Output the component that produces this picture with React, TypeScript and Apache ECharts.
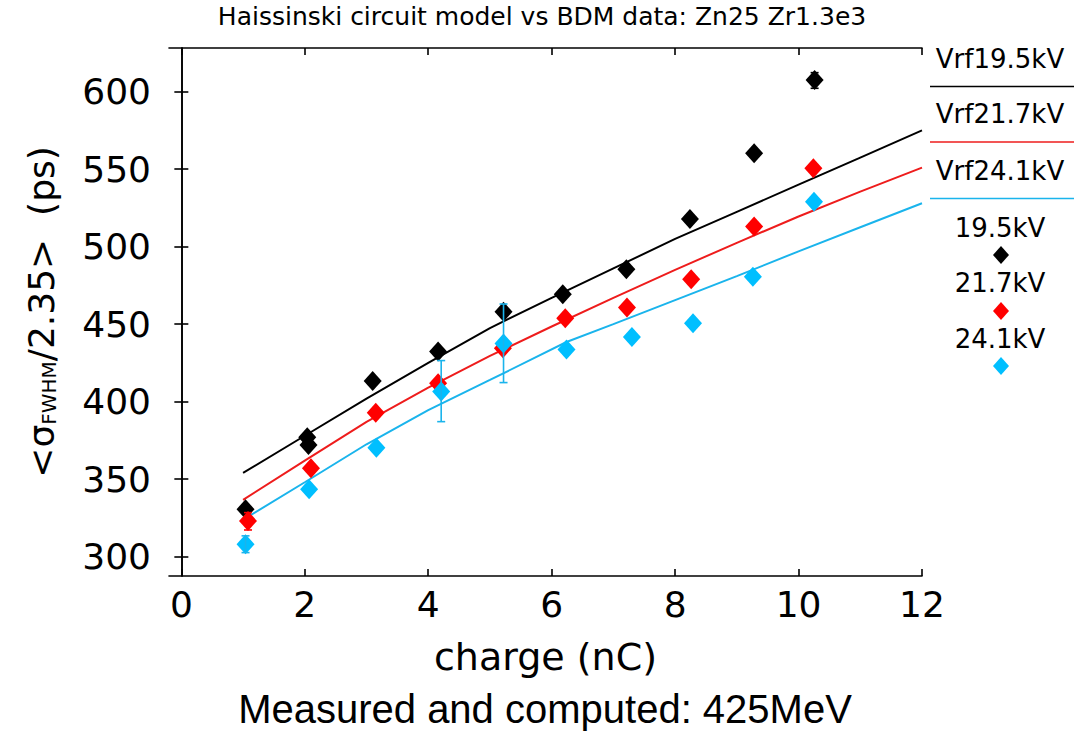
import React, { useEffect, useRef } from "react";
import * as echarts from "echarts";

// ---- data ----
const xTicks = [0, 2, 4, 6, 8, 10, 12];
const yTicks = [300, 350, 400, 450, 500, 550, 600];

// measured (BDM) data
const charge195 = [1.04, 2.04, 2.06, 3.1, 4.16, 5.22, 6.18, 7.21, 8.24, 9.28, 10.26];
const sigma195 = [330.6, 377, 372, 413.4, 432.3, 458, 469.3, 485.4, 517.8, 560.3, 607.5];
const charge217 = [1.08, 2.1, 3.15, 4.16, 5.21, 6.22, 7.22, 8.26, 9.28, 10.24];
const sigma217 = [323, 357, 392.9, 411.9, 434.5, 453.8, 460.8, 479, 513, 550.6];
const charge241 = [1.04, 2.07, 3.16, 4.21, 5.22, 6.24, 7.3, 8.29, 9.26, 10.25];
const sigma241 = [308, 343.5, 370.3, 406.5, 437.5, 433.6, 441.7, 450.6, 480.6, 529];

// error bars
const errCharge195 = [10.26];
const errLow195 = [602.2];
const errHigh195 = [612.3];
const errCharge217 = [1.08];
const errLow217 = [317.2];
const errHigh217 = [328.4];
const errCharge241 = [1.04, 4.21, 5.22];
const errLow241 = [302.6, 387.1, 412.3];
const errHigh241 = [313.4, 426.5, 463];

// Haissinski circuit model
const modelCharge195 = [1, 2, 3, 4, 5, 6, 7, 8, 9, 10, 11, 12];
const model195 = [354, 378, 402, 425, 447.5, 467, 486, 505, 522.5, 540, 557.5, 575];
const modelCharge217 = [1, 2, 3, 4, 5, 6, 7, 8, 9, 10, 11, 12];
const model217 = [336.6, 362, 387, 409, 429.5, 448.5, 467, 485, 502.5, 519.5, 535.5, 551];
const modelCharge241 = [1.05, 2, 3, 4, 5, 6.24, 7, 8, 9, 10, 11, 12];
const model241 = [325, 348, 372.5, 394.5, 414, 438.5, 450, 465.5, 481, 497, 512.5, 528];

const BLACK = "#000000";
const RED = "#ff0000";
const RED_LINE = "#ee1c1c";
const BLUE = "#00bfff";
const BLUE_LINE = "#1ab4ec";
const FONT = "DejaVu Sans";

const zip = (a: number[], b: number[]) => a.map((v, i) => [v, b[i]]);
const zip3 = (a: number[], b: number[], c: number[]) => a.map((v, i) => [v, b[i], c[i]]);

function errSeries(data: number[][], color: string, z: number) {
  return {
    type: "custom",
    xAxisIndex: 0,
    yAxisIndex: 0,
    data,
    encode: { x: 0, y: [1, 2] },
    z,
    renderItem: (params: any, api: any) => {
      const x = api.value(0);
      const p1 = api.coord([x, api.value(1)]);
      const p2 = api.coord([x, api.value(2)]);
      const w = 4;
      const style = { stroke: color, lineWidth: 1.6 };
      return {
        type: "group",
        children: [
          { type: "line", shape: { x1: p1[0], y1: p1[1], x2: p2[0], y2: p2[1] }, style },
          { type: "line", shape: { x1: p1[0] - w, y1: p1[1], x2: p1[0] + w, y2: p1[1] }, style },
          { type: "line", shape: { x1: p2[0] - w, y1: p2[1], x2: p2[0] + w, y2: p2[1] }, style },
        ],
      };
    },
  };
}

function lineSeries(data: number[][], color: string) {
  return {
    type: "line",
    xAxisIndex: 0,
    yAxisIndex: 0,
    data,
    showSymbol: false,
    symbol: "none",
    smooth: false,
    lineStyle: { color, width: 2 },
    z: 2,
  };
}

function scatterSeries(data: number[][], color: string, z: number) {
  return {
    type: "scatter",
    xAxisIndex: 0,
    yAxisIndex: 0,
    data,
    symbol: "diamond",
    symbolSize: [18, 20],
    itemStyle: { color, opacity: 1 },
    z,
  };
}

const diamond = (cx: number, cy: number, color: string) => ({
  type: "polygon",
  shape: { points: [[cx, cy - 9], [cx + 8, cy], [cx, cy + 9], [cx - 8, cy]] },
  style: { fill: color },
});

const legendText = (text: string, y: number) => ({
  type: "text",
  x: 1000,
  y,
  style: { text, fill: "#000", font: `26px "${FONT}"`, textAlign: "center", textVerticalAlign: "middle" },
});

const legendLine = (y: number, color: string) => ({
  type: "line",
  shape: { x1: 930, y1: y, x2: 1074, y2: y },
  style: { stroke: color, lineWidth: 1.6 },
});

export default function App() {
  const ref = useRef<HTMLDivElement>(null);
  useEffect(() => {
    if (!ref.current) return;
    const chart = echarts.init(ref.current, undefined, { renderer: "svg" });
    const axisLine = { show: true, lineStyle: { color: "#000", width: 1.6 } };
    const tickStyle = { color: "#000", width: 1.6 };
    chart.setOption({
      animation: false,
      backgroundColor: "#ffffff",
      grid: { left: 169, right: 152, top: 48, bottom: 156, containLabel: false },
      xAxis: [
        {
          type: "value",
          min: -0.2,
          max: 12,
          position: "bottom",
          axisLine,
          axisTick: { show: true, inside: true, length: 7, customValues: xTicks, lineStyle: tickStyle },
          axisLabel: {
            customValues: xTicks,
            fontSize: 36,
            fontFamily: FONT,
            color: "#000",
            margin: 10,
            showMaxLabel: true,
            showMinLabel: true,
          },
          splitLine: { show: false },
          name: "charge (nC)",
          nameLocation: "middle",
          nameGap: 62,
          nameTextStyle: { fontSize: 38, fontFamily: FONT, color: "#000" },
        },
        {
          type: "value",
          min: -0.2,
          max: 12,
          position: "top",
          axisLine,
          axisTick: { show: true, inside: true, length: 7, customValues: xTicks, lineStyle: tickStyle },
          axisLabel: { show: false },
          splitLine: { show: false },
        },
      ],
      yAxis: [
        {
          type: "value",
          min: 287.5,
          max: 628.2,
          position: "left",
          axisLine,
          axisTick: { show: true, inside: true, length: 7, customValues: yTicks, lineStyle: tickStyle },
          axisLabel: {
            customValues: yTicks,
            fontSize: 36,
            fontFamily: FONT,
            color: "#000",
            margin: 18,
            showMaxLabel: true,
            showMinLabel: true,
          },
          splitLine: { show: false },
          name: "{a|<σ}{b|FWHM}{a|/2.35>  (ps)}",
          nameLocation: "middle",
          nameRotate: 90,
          nameGap: 110,
          nameTextStyle: {
            color: "#000",
            fontFamily: FONT,
            rich: {
              a: { fontSize: 36, fontFamily: FONT, color: "#000" },
              b: { fontSize: 20, fontFamily: FONT, color: "#000", verticalAlign: "bottom", padding: [14, 0, 0, 0] },
            },
          },
        },
        {
          type: "value",
          min: 287.5,
          max: 628.2,
          position: "right",
          axisLine,
          axisTick: { show: true, inside: true, length: 7, customValues: yTicks, lineStyle: tickStyle },
          axisLabel: { show: false },
          splitLine: { show: false },
        },
      ],
      series: [
        lineSeries(zip(modelCharge195, model195), BLACK),
        lineSeries(zip(modelCharge217, model217), RED_LINE),
        lineSeries(zip(modelCharge241, model241), BLUE_LINE),
        scatterSeries(zip(charge195, sigma195), BLACK, 3),
        errSeries(zip3(errCharge195, errLow195, errHigh195), BLACK, 4),
        scatterSeries(zip(charge217, sigma217), RED, 6),
        errSeries(zip3(errCharge217, errLow217, errHigh217), RED, 7),
        scatterSeries(zip(charge241, sigma241), BLUE, 8),
        errSeries(zip3(errCharge241, errLow241, errHigh241), BLUE_LINE, 9),
      ],
      graphic: [
        {
          type: "text",
          x: 542,
          y: 16,
          style: {
            text: "Haissinski circuit model vs BDM data: Zn25 Zr1.3e3",
            fill: "#000",
            font: `25px "${FONT}"`,
            textAlign: "center",
            textVerticalAlign: "middle",
          },
        },
        {
          type: "text",
          x: 545,
          y: 709,
          style: {
            text: "Measured and computed: 425MeV",
            fill: "#000",
            font: `40px "Liberation Sans"`,
            textAlign: "center",
            textVerticalAlign: "middle",
          },
        },
        legendText("Vrf19.5kV", 59),
        legendLine(86.5, BLACK),
        legendText("Vrf21.7kV", 114),
        legendLine(142, RED_LINE),
        legendText("Vrf24.1kV", 171),
        legendLine(198.5, BLUE_LINE),
        legendText("19.5kV", 227.5),
        diamond(1001, 255, BLACK),
        legendText("21.7kV", 283),
        diamond(1001, 311, RED),
        legendText("24.1kV", 339),
        diamond(1001, 366, BLUE),
      ],
    });
    return () => chart.dispose();
  }, []);
  return (
    <div
      ref={ref}
      style={{ position: "absolute", left: 0, top: 0, width: 1074, height: 732, background: "#fff" }}
    />
  );
}
